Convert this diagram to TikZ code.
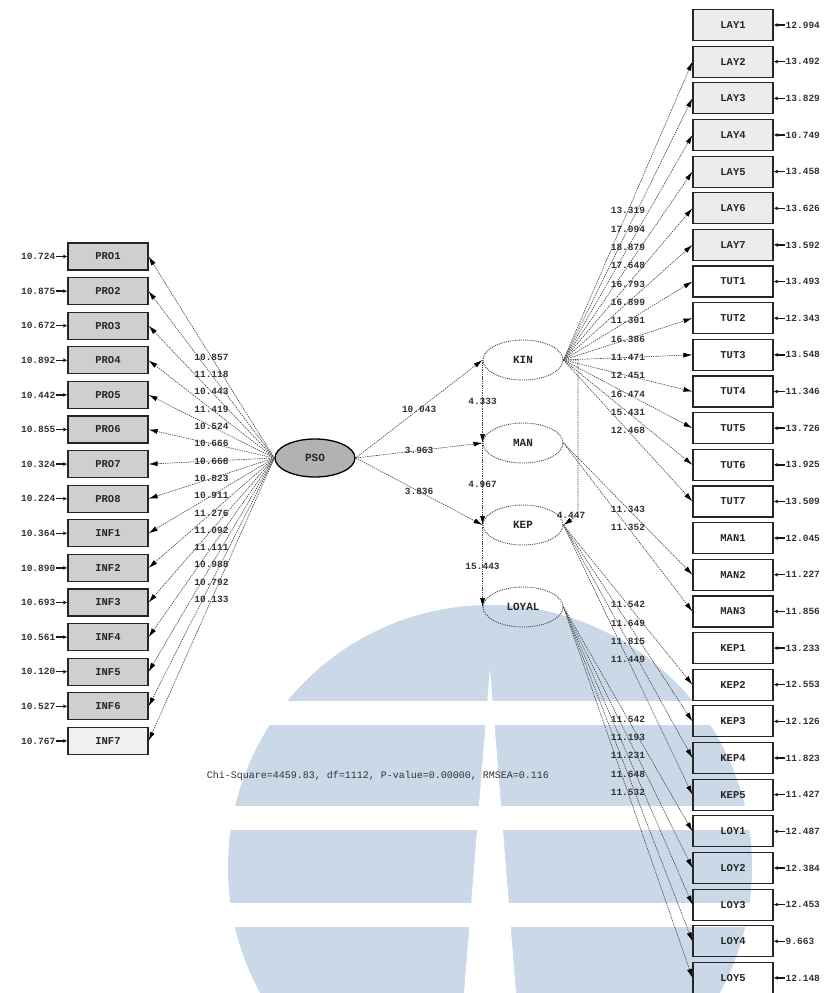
\documentclass[tikz,border=0pt]{standalone}
\usepackage{fontspec}
\setmonofont{Liberation Mono}
\usetikzlibrary{arrows.meta,shapes.geometric}
\definecolor{wmblue}{RGB}{202,216,232}
\tikzset{
  obs/.style={draw=black!85, line width=1.2pt, minimum width=80pt, minimum height=27pt,
    inner sep=0pt, font=\ttfamily\bfseries\fontsize{10.5}{10.5}\selectfont, text=black!85},
  lat/.style={ellipse, draw=black!75, densely dotted, line width=0.9pt, minimum width=80pt,
    minimum height=40pt, inner sep=0pt, font=\ttfamily\bfseries\fontsize{11}{11}\selectfont, text=black!85},
  tpath/.style={draw=black!70, line width=0.65pt, dash pattern=on 1.4pt off 0.9pt,
    -{Latex[length=9pt,width=5pt,color=black]}},
  tlab/.style={font=\ttfamily\bfseries\fontsize{9.5}{9.5}\selectfont, text=black!80, inner sep=0.5pt},
  errarr/.style={draw=black!90, line width=1.4pt, -{Latex[length=4pt,width=4pt]}},
}
\begin{document}
\begin{tikzpicture}[x=1pt,y=-1pt]
\useasboundingbox (0,0) rectangle (826,993);

% background emblem
\fill[wmblue] (490,867) circle[radius=262pt];
\fill[white] (200,701) rectangle (780,725);
\fill[white] (200,806) rectangle (780,830);
\fill[white] (200,903) rectangle (780,927);
\fill[white] (490,668) -- (516,993) -- (464,993) -- cycle;

% exogenous indicators
\foreach \lab [count=\i] in {PRO1,PRO2,PRO3,PRO4,PRO5,PRO6,PRO7,PRO8,INF1,INF2,INF3,INF4,INF5,INF6,INF7}{
  \pgfmathsetmacro\yy{256.5+34.6*(\i-1)}
  \ifnum\i<15
    \node[obs, fill=gray!38] (L\i) at (108,\yy) {\lab};
  \else
    \node[obs, fill=gray!12] (L\i) at (108,\yy) {\lab};
  \fi
}
\foreach \v [count=\i] in {10.724,10.875,10.672,10.892,10.442,10.855,10.324,10.224,10.364,10.890,10.693,10.561,10.120,10.527,10.767}{
  \pgfmathsetmacro\yy{256.5+34.6*(\i-1)}
  \node[tlab, anchor=east] (eL\i) at (56,\yy) {\v};
  \draw[errarr] (eL\i.east) -- (L\i.west);
}

% exogenous latent
\node[lat, solid, draw=black, line width=1.3pt, fill=gray!60, minimum height=38pt] (PSO) at (315,458) {PSO};
\foreach \v [count=\i] in {10.857,11.118,10.443,11.419,10.524,10.666,10.668,10.823,10.911,11.276,11.092,11.111,10.988,10.792,10.133}{
  \draw[tpath] (PSO.west) -- node[tlab]{\v} (L\i.east);
}

% endogenous indicators
\foreach \lab [count=\i] in {LAY1,LAY2,LAY3,LAY4,LAY5,LAY6,LAY7,TUT1,TUT2,TUT3,TUT4,TUT5,TUT6,TUT7,MAN1,MAN2,MAN3,KEP1,KEP2,KEP3,KEP4,KEP5,LOY1,LOY2,LOY3,LOY4,LOY5}{
  \pgfmathsetmacro\yy{25+36.65*(\i-1)}
  \ifnum\i<8
    \node[obs, minimum height=31pt, fill=gray!15] (R\i) at (733,\yy) {\lab};
  \else
    \node[obs, minimum height=31pt] (R\i) at (733,\yy) {\lab};
  \fi
}
\foreach \v [count=\i] in {12.994,13.492,13.829,10.749,13.458,13.626,13.592,13.493,12.343,13.548,11.346,13.726,13.925,13.509,12.045,11.227,11.856,13.233,12.553,12.126,11.823,11.427,12.487,12.384,12.453,9.663,12.148}{
  \pgfmathsetmacro\yy{25+36.65*(\i-1)}
  \node[tlab, anchor=west] (eR\i) at (785,\yy) {\v};
  \draw[errarr] (eR\i.west) -- (R\i.east);
}

% endogenous latents
\node[lat] (KIN) at (523,360) {KIN};
\node[lat] (MAN) at (523,443) {MAN};
\node[lat] (KEP) at (523,525) {KEP};
\node[lat] (LOYAL) at (523,607) {LOYAL};

% loadings of the endogenous latents
\foreach \v [count=\j from 2] in {13.319,17.094,18.879,17.648,16.793,16.899,11.301,16.386,11.471,12.451,16.474,15.431,12.468}{
  \draw[tpath] (KIN.east) -- node[tlab]{\v} (R\j.west);
}
\foreach \v [count=\j from 16] in {11.343,11.352}{
  \draw[tpath] (MAN.east) -- node[tlab]{\v} (R\j.west);
}
\foreach \v [count=\j from 19] in {11.542,11.649,11.815,11.449}{
  \draw[tpath] (KEP.east) -- node[tlab]{\v} (R\j.west);
}
\foreach \v [count=\j from 23] in {11.542,11.193,11.231,11.648,11.532}{
  \draw[tpath] (LOYAL.east) -- node[tlab]{\v} (R\j.west);
}

% structural paths
\draw[tpath] (PSO.east) -- node[tlab]{10.043} (KIN.west);
\draw[tpath] (PSO.east) -- node[tlab]{3.963} (MAN.west);
\draw[tpath] (PSO.east) -- node[tlab]{3.836} (KEP.west);
\draw[tpath] (KIN.west) -- node[tlab]{4.333} (MAN.west);
\draw[tpath] (MAN.west) -- node[tlab]{4.967} (KEP.west);
\draw[tpath] (KEP.west) -- node[tlab]{15.443} (LOYAL.west);
\coordinate (kk) at (578,515);
\draw[tpath] (KIN.east) -| (kk) node[tlab, xshift=-7pt]{4.447} -- (KEP.east);

% fit statistics
\node[font=\ttfamily\fontsize{10}{10}\selectfont, text=black!80] (fit) at (378,776)
  {Chi-Square=4459.83, df=1112, P-value=0.00000, RMSEA=0.116};
\end{tikzpicture}
\end{document}
